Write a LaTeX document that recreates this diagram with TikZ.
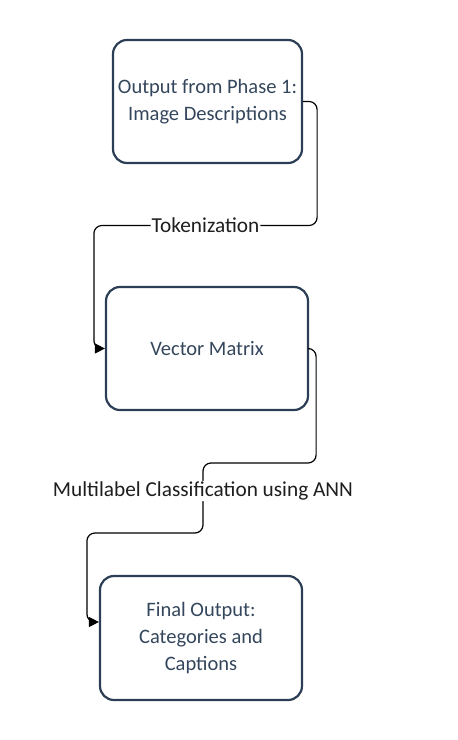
\documentclass[tikz,border=0pt]{standalone}
\usepackage{fontspec}
\setmainfont{Carlito}
\usepackage{xcolor}
\usetikzlibrary{arrows.meta,positioning,calc}
\definecolor{boxline}{HTML}{2C3E55}
\definecolor{boxtext}{HTML}{34465C}
\definecolor{linetext}{HTML}{1E1E1E}
\begin{document}
\begin{tikzpicture}[
  x=1pt, y=1pt,
  font=\fontsize{20.5}{27}\selectfont,
  box/.style={
    rectangle,
    draw=boxline,
    line width=2.2pt,
    rounded corners=14pt,
    minimum height=123pt,
    minimum width=202pt,
    align=center,
    text=boxtext,
    inner sep=2pt
  },
  conn/.style={
    draw=black,
    line width=1.2pt,
    rounded corners=8pt,
    -{Triangle[length=10pt,width=10pt]}
  },
  lbl/.style={
    fill=white,
    text=linetext,
    font=\fontsize{21.3}{27}\selectfont,
    inner sep=1pt
  }
]
\useasboundingbox (0,0) rectangle (458,-740);
\node[box, minimum width=189pt] (phase) at (207.5,-101.5)
{Output from Phase 1:\\Image Descriptions};
\node[box] (vec) at (207,-348.5) {Vector Matrix};
\node[box, minimum height=124pt] (fin) at (201,-638)
{Final Output:\\Categories and\\Captions};
\draw[conn]
  (phase.east) -- ++(14,0) -- ++(0,-124)
  -| node[lbl, pos=0.25] {Tokenization}
  ($(vec.west)+(-11,0)$) -- (vec.west);
\draw[conn]
  (vec.east) -- ++(7,0) |- (203,-463)
  -- node[lbl, pos=0.4] {Multilabel Classification using ANN} ++(0,-70)
  -| ($(fin.west)+(-12,16)$) -- ($(fin.west)+(0,16)$);
\end{tikzpicture}
\end{document}
